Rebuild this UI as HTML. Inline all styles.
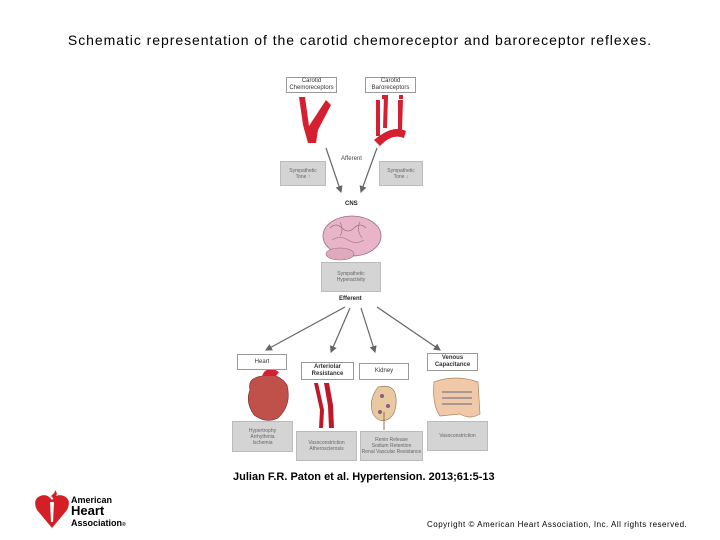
<!DOCTYPE html>
<html><head><meta charset="utf-8"><style>
body{margin:0;width:720px;height:540px;background:#fff;position:relative;overflow:hidden;font-family:"Liberation Sans",sans-serif}
.a{position:absolute}
.lb{position:absolute;border:1px solid #999;background:#fff;font-size:6px;text-align:center;color:#333;line-height:7px;box-sizing:border-box;display:flex;align-items:center;justify-content:center}
.gb{position:absolute;background:#d4d4d4;border:1px solid #bbb;font-size:5px;color:#666;text-align:center;box-sizing:border-box;display:flex;align-items:center;justify-content:center;line-height:6px}
</style></head><body>
<div class="a" style="left:0;width:720px;top:32px;text-align:center;font-size:14px;letter-spacing:0.95px;color:#000">Schematic representation of the carotid chemoreceptor and baroreceptor reflexes.</div>

<div class="lb" style="left:286px;top:77px;width:51px;height:16px">Carotid<br>Chemoreceptors</div>
<div class="lb" style="left:365px;top:77px;width:51px;height:16px">Carotid<br>Baroreceptors</div>

<svg class="a" style="left:0;top:0" width="720" height="540">
<defs><marker id="m" markerWidth="6" markerHeight="6" refX="5" refY="3" orient="auto"><path d="M0,0 L6,3 L0,6 z" fill="#666"/></marker></defs>
<path d="M299,97 L305,97 L309,126 L326,100 L331,105 L318,130 L316,143 L308,143 L303,125 Z" fill="#d42030"/>
<path d="M382,97 L386,97 L385,128 M399,97 L403,97" stroke="#d42030" stroke-width="4" fill="none"/>
<path d="M374,140 Q393,124 406,131 L404,138 Q392,133 380,146 Z" fill="#d42030"/>
<path d="M376,100 L380,100 L380,136 L376,136 Z M398,100 L403,100 L402,130 L398,130 Z" fill="#d42030"/>
<line x1="326" y1="148" x2="341" y2="192" stroke="#666" stroke-width="1.2" marker-end="url(#m)"/>
<line x1="377" y1="148" x2="361" y2="192" stroke="#666" stroke-width="1.2" marker-end="url(#m)"/>
<ellipse cx="352" cy="236" rx="29" ry="20" fill="#e8b5c8" stroke="#9a6a80" stroke-width="0.8"/>
<ellipse cx="340" cy="254" rx="14" ry="6" fill="#deaabc" stroke="#9a6a80" stroke-width="0.6"/>
<path d="M330,228 q6,-6 12,0 q6,6 12,0 q6,-6 12,0 M332,240 q8,-5 16,0 q8,5 16,0 M340,222 q4,8 0,14 M360,222 q-4,8 2,16" stroke="#9a6a80" stroke-width="0.6" fill="none"/>
<line x1="345" y1="307" x2="266" y2="350" stroke="#666" stroke-width="1.2" marker-end="url(#m)"/>
<line x1="350" y1="308" x2="331" y2="352" stroke="#666" stroke-width="1.2" marker-end="url(#m)"/>
<line x1="361" y1="308" x2="375" y2="352" stroke="#666" stroke-width="1.2" marker-end="url(#m)"/>
<line x1="377" y1="307" x2="440" y2="350" stroke="#666" stroke-width="1.2" marker-end="url(#m)"/>
<path d="M250,390 Q247,378 262,376 Q278,372 287,385 Q292,405 278,418 Q266,424 254,415 Q245,402 250,390 Z" fill="#c0504a" stroke="#7a2a2a" stroke-width="0.6"/>
<path d="M262,376 L264,372 Q270,366 279,372 L276,376 Z" fill="#d42030"/>
<path d="M314,383 L318,383 L324,410 L323,428 L319,428 L320,410 Z M324,383 L329,383 L333,405 L334,428 L329,428 L328,406 Z" fill="#c01828"/>
<path d="M378,387 Q395,383 396,398 Q397,412 390,418 Q380,425 373,414 Q368,400 378,387 Z" fill="#e9c9a0" stroke="#8a7050" stroke-width="0.6"/>
<circle cx="382" cy="396" r="2" fill="#8a5a8a"/><circle cx="388" cy="406" r="2" fill="#8a5a8a"/><circle cx="380" cy="412" r="2" fill="#8a5a8a"/>
<line x1="384" y1="412" x2="384" y2="430" stroke="#8a7050" stroke-width="1"/>
<path d="M434,382 Q455,374 478,382 L480,414 Q470,420 460,414 L440,416 Q432,405 434,382 Z" fill="#f0c9a8" stroke="#b08060" stroke-width="0.7"/>
<path d="M442,392 h30 M442,398 h30 M442,404 h30" stroke="#a89898" stroke-width="2"/>
</svg>

<div class="a" style="left:341px;top:156px;font-size:6px;color:#444">Afferent</div>
<div class="gb" style="left:280px;top:161px;width:46px;height:25px">Sympathetic<br>Tone ↑</div>
<div class="gb" style="left:379px;top:161px;width:44px;height:25px">Sympathetic<br>Tone ↓</div>
<div class="a" style="left:345px;top:201px;font-size:6px;color:#222;font-weight:bold">CNS</div>
<div class="gb" style="left:321px;top:262px;width:60px;height:30px">Sympathetic<br>Hyperactivity</div>
<div class="a" style="left:339px;top:296px;font-size:6px;color:#222;font-weight:bold">Efferent</div>

<div class="lb" style="left:237px;top:354px;width:50px;height:16px">Heart</div>
<div class="lb" style="left:301px;top:362px;width:53px;height:18px;font-weight:bold">Arteriolar<br>Resistance</div>
<div class="lb" style="left:359px;top:363px;width:50px;height:17px">Kidney</div>
<div class="lb" style="left:427px;top:353px;width:51px;height:18px;font-weight:bold">Venous<br>Capacitance</div>

<div class="gb" style="left:232px;top:421px;width:61px;height:31px">Hypertrophy<br>Arrhythmia<br>Ischemia</div>
<div class="gb" style="left:296px;top:431px;width:61px;height:30px">Vasoconstriction<br>Atherosclerosis</div>
<div class="gb" style="left:360px;top:431px;width:63px;height:30px">Renin Release<br>Sodium Retention<br>Renal Vascular Resistance</div>
<div class="gb" style="left:427px;top:421px;width:61px;height:30px">Vasoconstriction</div>

<div class="a" style="left:233px;top:471px;font-size:11px;font-weight:bold;color:#000">Julian F.R. Paton et al. Hypertension. 2013;61:5-13</div>
<div class="a" style="left:427px;top:520px;font-size:8px;letter-spacing:0.5px;color:#000">Copyright © American Heart Association, Inc. All rights reserved.</div>

<svg class="a" style="left:34px;top:490px" width="36" height="40">
<path d="M18,38 L3,20 Q-2,10 6,6 Q13,3 18,10 Q23,3 30,6 Q38,10 33,20 Z" fill="#d41f26"/>
<path d="M16,12 L20,12 L19,32 L17,32 Z" fill="#fff"/>
<path d="M17,6 Q22,2 21,0 Q25,4 20,9 Z" fill="#d41f26"/>
</svg>
<div class="a" style="left:71px;top:495px;font-size:9px;font-weight:bold;line-height:10px;color:#000">American</div>
<div class="a" style="left:71px;top:504px;font-size:13px;font-weight:bold;line-height:13px;color:#000">Heart</div>
<div class="a" style="left:71px;top:518px;font-size:9px;font-weight:bold;line-height:10px;color:#000">Association<span style="font-size:5px">®</span></div>
</body></html>
